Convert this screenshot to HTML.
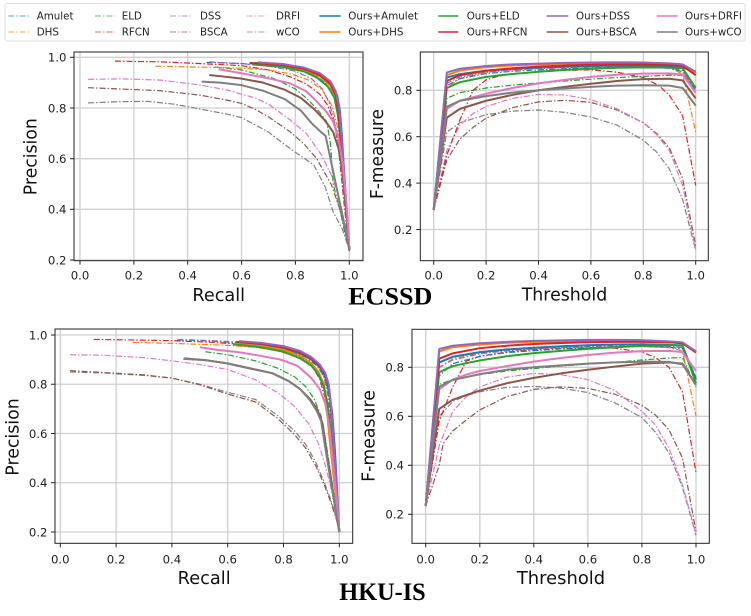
<!DOCTYPE html>
<html><head><meta charset="utf-8"><style>
html,body{margin:0;padding:0;background:#fff;}
svg{display:block;}
.g{stroke:#cfcfcf;stroke-width:1.3;}
.sp{fill:none;stroke:#222;stroke-width:1;}
.tk{stroke:#222;stroke-width:1;}
.tl{font-family:"DejaVu Sans","Liberation Sans",sans-serif;font-size:11.7px;fill:#222;}
.al{font-family:"DejaVu Sans","Liberation Sans",sans-serif;font-size:17.5px;fill:#111;}
.lg{font-family:"DejaVu Sans","Liberation Sans",sans-serif;font-size:10.3px;fill:#222;}
.tt{font-family:"Liberation Serif","Times New Roman",serif;font-weight:bold;font-size:25px;fill:#000;}
.b{fill:none;stroke-width:1.2;stroke-dasharray:6 2 1.5 2;vector-effect:non-scaling-stroke;stroke-linejoin:round;}
.o{fill:none;stroke-width:2;vector-effect:non-scaling-stroke;stroke-linejoin:round;}
.c0{stroke:#1f77b4}.c1{stroke:#ff7f0e}.c2{stroke:#2ca02c}.c3{stroke:#d62728}
.c4{stroke:#9467bd}.c5{stroke:#8c564b}.c6{stroke:#e377c2}.c7{stroke:#7f7f7f}
</style></head><body>
<svg width="751" height="616" viewBox="0 0 751 616" xmlns="http://www.w3.org/2000/svg">
<defs>
<clipPath id="k1"><rect x="74" y="52" width="289" height="208.7"/></clipPath>
<clipPath id="k2"><rect x="420.3" y="52" width="288" height="208.7"/></clipPath>
<clipPath id="k3"><rect x="55" y="329" width="297.7" height="214.3"/></clipPath>
<clipPath id="k4"><rect x="412" y="329.3" width="297.3" height="214"/></clipPath>
</defs>
<rect width="751" height="616" fill="#fff"/>

<!-- Legend -->
<rect x="5" y="3.5" width="740" height="37.5" rx="2" fill="#fff" stroke="#ddd" stroke-width="1"/>
<g opacity="0.55">
<line class="b c0" x1="8.3" y1="16" x2="29" y2="16"/>
<line class="b c1" x1="8.3" y1="32" x2="29" y2="32"/>
<line class="b c2" x1="95" y1="16" x2="115" y2="16"/>
<line class="b c3" x1="95" y1="32" x2="115" y2="32"/>
<line class="b c4" x1="170" y1="16" x2="190.7" y2="16"/>
<line class="b c5" x1="170" y1="32" x2="190.7" y2="32"/>
<line class="b c6" x1="246.7" y1="16" x2="266.7" y2="16"/>
<line class="b c7" x1="246.7" y1="32" x2="266.7" y2="32"/>
</g>
<g opacity="0.75">
<line class="o c0" x1="319.3" y1="16" x2="340.7" y2="16"/>
<line class="o c1" x1="319.3" y1="32" x2="340.7" y2="32"/>
<line class="o c2" x1="438.3" y1="16" x2="458.3" y2="16"/>
<line class="o c3" x1="438.3" y1="32" x2="458.3" y2="32"/>
<line class="o c4" x1="546.7" y1="16" x2="568.3" y2="16"/>
<line class="o c5" x1="546.7" y1="32" x2="568.3" y2="32"/>
<line class="o c6" x1="656.7" y1="16" x2="677.7" y2="16"/>
<line class="o c7" x1="656.7" y1="32" x2="677.7" y2="32"/>
</g>
<text class="lg" x="36.7" y="19.7">Amulet</text>
<text class="lg" x="36.7" y="35.7">DHS</text>
<text class="lg" x="121.7" y="19.7">ELD</text>
<text class="lg" x="121.7" y="35.7">RFCN</text>
<text class="lg" x="200" y="19.7">DSS</text>
<text class="lg" x="200" y="35.7">BSCA</text>
<text class="lg" x="276" y="19.7">DRFI</text>
<text class="lg" x="276" y="35.7">wCO</text>
<text class="lg" x="348.3" y="19.7">Ours+Amulet</text>
<text class="lg" x="348.3" y="35.7">Ours+DHS</text>
<text class="lg" x="466.7" y="19.7">Ours+ELD</text>
<text class="lg" x="466.7" y="35.7">Ours+RFCN</text>
<text class="lg" x="576" y="19.7">Ours+DSS</text>
<text class="lg" x="576" y="35.7">Ours+BSCA</text>
<text class="lg" x="685" y="19.7">Ours+DRFI</text>
<text class="lg" x="685" y="35.7">Ours+wCO</text>

<!-- ============ Plot 1: ECSSD PR ============ -->
<g class="g">
<line x1="80" y1="52" x2="80" y2="260.7"/><line x1="133.9" y1="52" x2="133.9" y2="260.7"/>
<line x1="187.7" y1="52" x2="187.7" y2="260.7"/><line x1="241.6" y1="52" x2="241.6" y2="260.7"/>
<line x1="295.4" y1="52" x2="295.4" y2="260.7"/><line x1="349.3" y1="52" x2="349.3" y2="260.7"/>
<line x1="74" y1="57.3" x2="363" y2="57.3"/><line x1="74" y1="108" x2="363" y2="108"/>
<line x1="74" y1="158.7" x2="363" y2="158.7"/><line x1="74" y1="209.3" x2="363" y2="209.3"/>
<line x1="74" y1="260" x2="363" y2="260"/>
</g>
<g clip-path="url(#k1)"><g transform="matrix(0.2693,0,0,-0.2534,80,310.7)">
<polyline class="b c7" points="30,820 150,825 250,826 350,815 450,795 550,775 600,762 700,705 780,640 868,575 910,490 940,390 975,320 1000,240"/>
<polyline class="b c5" points="30,880 150,875 300,868 450,850 550,830 600,818 650,795 700,765 780,706 830,660 879,600 934,496 965,400 985,300 1000,240"/>
<polyline class="b c6" points="30,913 150,915 300,910 450,890 550,870 600,854 650,840 700,815 780,753 840,700 897,614 940,520 965,430 985,330 1000,240"/>
<polyline class="b c2" points="500,962 600,950 718,917 800,875 842,838 885,790 916,746 930,660 940,500 960,420 977,350 1000,240"/>
<polyline class="b c3" points="130,985 300,982 450,975 600,967 700,950 780,923 840,895 890,855 920,810 945,740 960,640 975,480 990,330 1000,235"/>
<polyline class="b c1" points="280,965 400,962 500,960 600,957 700,950 780,935 850,910 900,870 935,810 955,730 970,600 985,420 1000,240"/>
<polyline class="b c0" points="470,980 600,975 700,968 800,955 870,930 910,900 940,860 955,800 965,720 975,600 988,420 1000,240"/>
<polyline class="b c4" points="480,982 600,975 700,965 800,945 860,915 900,875 925,820 940,770 955,700 970,560 985,400 1000,240"/>
<polyline class="o c0" points="650,977 750,970 830,955 890,930 930,895 955,850 965,790 972,700 980,560 990,400 1000,240"/>
<polyline class="o c1" points="640,975 750,968 830,952 890,925 930,888 950,840 962,760 970,650 982,500 992,370 1000,240"/>
<polyline class="o c2" points="640,972 750,962 830,945 880,920 920,885 945,840 958,770 966,680 978,530 990,380 1000,240"/>
<polyline class="o c3" points="630,978 750,970 830,955 890,930 930,895 950,850 960,780 968,680 980,530 990,400 1000,240"/>
<polyline class="o c4" points="660,980 750,974 830,960 890,938 930,905 950,865 962,800 970,700 980,560 990,400 1000,240"/>
<polyline class="o c5" points="480,930 550,922 600,916 680,900 760,872 820,840 870,795 910,750 940,705 960,640 975,550 990,400 1000,245"/>
<polyline class="o c6" points="515,953 600,937 700,917 780,897 840,866 880,825 915,785 940,746 960,680 975,580 990,420 1000,250"/>
<polyline class="o c7" points="452,904 520,900 600,890 680,868 760,835 820,790 860,740 895,705 912,690 930,600 950,500 970,400 990,300 1000,240"/>
</g></g>
<rect class="sp" x="74" y="52" width="289" height="208.7"/>
<g class="tk">
<line x1="80" y1="260.7" x2="80" y2="264.7"/><line x1="133.9" y1="260.7" x2="133.9" y2="264.7"/>
<line x1="187.7" y1="260.7" x2="187.7" y2="264.7"/><line x1="241.6" y1="260.7" x2="241.6" y2="264.7"/>
<line x1="295.4" y1="260.7" x2="295.4" y2="264.7"/><line x1="349.3" y1="260.7" x2="349.3" y2="264.7"/>
<line x1="70" y1="57.3" x2="74" y2="57.3"/><line x1="70" y1="108" x2="74" y2="108"/>
<line x1="70" y1="158.7" x2="74" y2="158.7"/><line x1="70" y1="209.3" x2="74" y2="209.3"/>
<line x1="70" y1="260" x2="74" y2="260"/>
</g>
<g class="tl" text-anchor="middle">
<text x="80" y="279.3">0.0</text><text x="133.9" y="279.3">0.2</text><text x="187.7" y="279.3">0.4</text>
<text x="241.6" y="279.3">0.6</text><text x="295.4" y="279.3">0.8</text><text x="349.3" y="279.3">1.0</text>
</g>
<g class="tl" text-anchor="end">
<text x="66.5" y="61.6">1.0</text><text x="66.5" y="112.3">0.8</text><text x="66.5" y="163">0.6</text>
<text x="66.5" y="213.6">0.4</text><text x="66.5" y="264.3">0.2</text>
</g>
<text class="al" x="218.7" y="301" text-anchor="middle" textLength="52.7" lengthAdjust="spacingAndGlyphs">Recall</text>
<text class="al" transform="translate(36.7,156.7) rotate(-90)" text-anchor="middle" textLength="77" lengthAdjust="spacingAndGlyphs">Precision</text>

<!-- ============ Plot 2: ECSSD F-measure ============ -->
<g class="g">
<line x1="433.7" y1="52" x2="433.7" y2="260.7"/><line x1="486.1" y1="52" x2="486.1" y2="260.7"/>
<line x1="538.5" y1="52" x2="538.5" y2="260.7"/><line x1="590.9" y1="52" x2="590.9" y2="260.7"/>
<line x1="643.3" y1="52" x2="643.3" y2="260.7"/><line x1="695.7" y1="52" x2="695.7" y2="260.7"/>
<line x1="420.3" y1="90.3" x2="708.3" y2="90.3"/><line x1="420.3" y1="136.7" x2="708.3" y2="136.7"/>
<line x1="420.3" y1="183.1" x2="708.3" y2="183.1"/><line x1="420.3" y1="229.5" x2="708.3" y2="229.5"/>
</g>
<g clip-path="url(#k2)"><g transform="matrix(0.262,0,0,-0.232,433.7,275.9)">
<polyline class="b c7" points="0,284 50,620 100,660 200,695 300,710 400,715 500,705 600,685 700,650 800,585 850,535 900,460 950,330 1000,110"/>
<polyline class="b c5" points="0,284 50,500 100,590 150,640 200,680 300,725 400,750 500,757 600,748 700,715 800,660 850,615 900,550 950,420 1000,130"/>
<polyline class="b c6" points="0,284 50,540 100,650 150,700 200,730 300,765 400,782 500,780 600,760 700,720 800,660 850,610 900,540 950,390 1000,115"/>
<polyline class="b c2" points="0,284 50,765 100,790 200,810 300,822 400,832 500,840 600,848 700,855 800,860 900,865 950,865 1000,810"/>
<polyline class="b c3" points="0,284 50,520 100,672 150,800 200,845 250,862 300,872 400,880 500,886 600,888 700,878 800,855 860,820 900,778 950,690 1000,390"/>
<polyline class="b c1" points="0,284 50,810 100,850 200,878 300,888 400,895 500,900 600,903 700,905 800,905 900,898 950,870 1000,620"/>
<polyline class="b c0" points="0,284 50,820 100,850 200,872 300,882 400,888 500,893 600,897 700,900 800,900 900,895 950,880 1000,800"/>
<polyline class="b c4" points="0,284 50,830 100,857 200,878 300,888 400,894 500,898 600,901 700,903 800,903 900,897 950,885 1000,790"/>
<polyline class="o c0" points="0,284 50,855 100,870 200,885 300,893 400,898 500,902 600,905 700,907 800,907 900,903 950,898 1000,880"/>
<polyline class="o c1" points="0,284 50,865 100,885 200,900 300,907 400,912 500,915 600,917 700,918 800,917 900,913 950,908 1000,875"/>
<polyline class="o c2" points="0,284 50,810 100,835 200,858 300,870 400,880 500,888 600,893 700,897 800,899 900,898 950,895 1000,810"/>
<polyline class="o c3" points="0,284 50,840 100,865 200,885 300,895 400,902 500,907 600,910 700,912 800,912 900,909 950,905 1000,865"/>
<polyline class="o c4" points="0,284 50,877 100,893 200,905 300,912 400,915 500,918 600,920 700,921 800,920 900,916 950,912 1000,880"/>
<polyline class="o c5" points="0,284 50,682 100,720 200,755 300,780 400,800 500,815 600,828 700,840 800,848 900,850 950,843 1000,765"/>
<polyline class="o c6" points="0,284 50,720 100,755 200,785 300,810 400,830 500,845 600,858 700,867 800,872 900,873 950,868 1000,790"/>
<polyline class="o c7" points="0,284 50,729 100,755 200,775 300,790 400,800 500,808 600,815 700,820 800,822 900,820 950,810 1000,734"/>
</g></g>
<rect class="sp" x="420.3" y="52" width="288" height="208.7"/>
<g class="tk">
<line x1="433.7" y1="260.7" x2="433.7" y2="264.7"/><line x1="486.1" y1="260.7" x2="486.1" y2="264.7"/>
<line x1="538.5" y1="260.7" x2="538.5" y2="264.7"/><line x1="590.9" y1="260.7" x2="590.9" y2="264.7"/>
<line x1="643.3" y1="260.7" x2="643.3" y2="264.7"/><line x1="695.7" y1="260.7" x2="695.7" y2="264.7"/>
<line x1="416.3" y1="90.3" x2="420.3" y2="90.3"/><line x1="416.3" y1="136.7" x2="420.3" y2="136.7"/>
<line x1="416.3" y1="183.1" x2="420.3" y2="183.1"/><line x1="416.3" y1="229.5" x2="420.3" y2="229.5"/>
</g>
<g class="tl" text-anchor="middle">
<text x="433.7" y="279.3">0.0</text><text x="486.1" y="279.3">0.2</text><text x="538.5" y="279.3">0.4</text>
<text x="590.9" y="279.3">0.6</text><text x="643.3" y="279.3">0.8</text><text x="695.7" y="279.3">1.0</text>
</g>
<g class="tl" text-anchor="end">
<text x="412.5" y="94.6">0.8</text><text x="412.5" y="141">0.6</text>
<text x="412.5" y="187.4">0.4</text><text x="412.5" y="233.8">0.2</text>
</g>
<text class="al" x="564.5" y="300.7" text-anchor="middle" textLength="85.6" lengthAdjust="spacingAndGlyphs">Threshold</text>
<text class="al" transform="translate(383,154) rotate(-90)" text-anchor="middle" textLength="90" lengthAdjust="spacingAndGlyphs">F-measure</text>

<text class="tt" x="348.3" y="304.3" textLength="84" lengthAdjust="spacingAndGlyphs">ECSSD</text>

<!-- ============ Plot 3: HKU-IS PR ============ -->
<g class="g">
<line x1="60.3" y1="329" x2="60.3" y2="543.3"/><line x1="116.1" y1="329" x2="116.1" y2="543.3"/>
<line x1="171.9" y1="329" x2="171.9" y2="543.3"/><line x1="227.7" y1="329" x2="227.7" y2="543.3"/>
<line x1="283.5" y1="329" x2="283.5" y2="543.3"/><line x1="339.3" y1="329" x2="339.3" y2="543.3"/>
<line x1="55" y1="335" x2="352.7" y2="335"/><line x1="55" y1="384.25" x2="352.7" y2="384.25"/>
<line x1="55" y1="433.5" x2="352.7" y2="433.5"/><line x1="55" y1="482.75" x2="352.7" y2="482.75"/>
<line x1="55" y1="532" x2="352.7" y2="532"/>
</g>
<g clip-path="url(#k3)"><g transform="matrix(0.279,0,0,-0.24625,60.3,581.25)">
<polyline class="b c7" points="35,850 150,846 300,836 400,825 500,800 600,767 700,738 780,672 840,610 880,555 915,485 945,405 970,330 990,255 1000,200"/>
<polyline class="b c5" points="35,855 150,848 300,838 400,825 500,798 600,760 700,728 780,660 840,595 880,540 915,470 945,395 970,320 990,250 1000,200"/>
<polyline class="b c6" points="35,920 150,918 300,908 400,895 500,880 600,860 700,818 780,765 840,710 890,640 925,560 950,470 970,380 990,280 1000,200"/>
<polyline class="b c2" points="520,932 600,920 700,895 780,865 840,830 880,790 910,740 935,670 950,580 965,470 985,320 1000,200"/>
<polyline class="b c3" points="120,982 250,980 400,977 550,970 650,962 750,948 820,930 870,905 905,870 930,820 950,740 965,620 980,450 1000,200"/>
<polyline class="b c1" points="260,970 400,966 500,962 600,958 700,950 780,935 850,910 900,875 930,830 950,760 965,650 980,480 1000,200"/>
<polyline class="b c0" points="420,980 550,975 650,968 750,955 830,935 880,910 920,875 945,830 960,770 970,690 985,500 1000,200"/>
<polyline class="b c4" points="420,982 550,977 650,970 750,958 830,940 880,915 920,880 945,830 960,750 975,600 990,400 1000,200"/>
<polyline class="o c0" points="640,968 720,960 800,945 860,925 900,900 930,870 950,830 965,760 975,680 985,520 993,350 1000,200"/>
<polyline class="o c1" points="630,965 720,955 800,940 860,915 900,885 925,850 945,800 955,700 965,580 980,420 992,300 1000,200"/>
<polyline class="o c2" points="620,962 720,950 800,932 860,905 900,875 925,840 945,790 958,720 968,620 980,480 992,320 1000,200"/>
<polyline class="o c3" points="630,972 720,965 800,950 860,930 900,905 930,875 950,840 963,790 970,700 980,550 990,380 1000,200"/>
<polyline class="o c4" points="640,975 720,968 800,955 860,935 900,910 930,880 950,845 962,800 970,720 980,560 990,380 1000,200"/>
<polyline class="o c5" points="445,905 520,898 600,884 680,864 760,845 820,812 860,780 895,740 920,700 940,640 955,520 970,420 985,300 1000,200"/>
<polyline class="o c6" points="500,950 560,940 640,930 720,915 790,900 850,875 900,825 930,780 950,720 965,620 980,450 992,320 1000,200"/>
<polyline class="o c7" points="441,903 520,898 600,885 680,865 760,845 820,812 860,780 895,735 920,690 935,650 950,540 970,400 985,300 1000,200"/>
</g></g>
<rect class="sp" x="55" y="329" width="297.7" height="214.3"/>
<g class="tk">
<line x1="60.3" y1="543.3" x2="60.3" y2="547.3"/><line x1="116.1" y1="543.3" x2="116.1" y2="547.3"/>
<line x1="171.9" y1="543.3" x2="171.9" y2="547.3"/><line x1="227.7" y1="543.3" x2="227.7" y2="547.3"/>
<line x1="283.5" y1="543.3" x2="283.5" y2="547.3"/><line x1="339.3" y1="543.3" x2="339.3" y2="547.3"/>
<line x1="51" y1="335" x2="55" y2="335"/><line x1="51" y1="384.25" x2="55" y2="384.25"/>
<line x1="51" y1="433.5" x2="55" y2="433.5"/><line x1="51" y1="482.75" x2="55" y2="482.75"/>
<line x1="51" y1="532" x2="55" y2="532"/>
</g>
<g class="tl" text-anchor="middle">
<text x="60.3" y="563.3">0.0</text><text x="116.1" y="563.3">0.2</text><text x="171.9" y="563.3">0.4</text>
<text x="227.7" y="563.3">0.6</text><text x="283.5" y="563.3">0.8</text><text x="339.3" y="563.3">1.0</text>
</g>
<g class="tl" text-anchor="end">
<text x="47.5" y="339.3">1.0</text><text x="47.5" y="388.5">0.8</text><text x="47.5" y="437.8">0.6</text>
<text x="47.5" y="487">0.4</text><text x="47.5" y="536.3">0.2</text>
</g>
<text class="al" x="204.2" y="584" text-anchor="middle" textLength="53" lengthAdjust="spacingAndGlyphs">Recall</text>
<text class="al" transform="translate(18.5,437) rotate(-90)" text-anchor="middle" textLength="77.4" lengthAdjust="spacingAndGlyphs">Precision</text>

<!-- ============ Plot 4: HKU-IS F-measure ============ -->
<g class="g">
<line x1="425.7" y1="329.3" x2="425.7" y2="543.3"/><line x1="479.8" y1="329.3" x2="479.8" y2="543.3"/>
<line x1="533.8" y1="329.3" x2="533.8" y2="543.3"/><line x1="587.9" y1="329.3" x2="587.9" y2="543.3"/>
<line x1="641.9" y1="329.3" x2="641.9" y2="543.3"/><line x1="696" y1="329.3" x2="696" y2="543.3"/>
<line x1="412" y1="367.3" x2="709.3" y2="367.3"/><line x1="412" y1="416.3" x2="709.3" y2="416.3"/>
<line x1="412" y1="465.3" x2="709.3" y2="465.3"/><line x1="412" y1="514.3" x2="709.3" y2="514.3"/>
</g>
<g clip-path="url(#k4)"><g transform="matrix(0.2703,0,0,-0.245,425.7,563.3)">
<polyline class="b c7" points="0,234 50,600 100,660 150,685 200,700 300,718 400,722 500,715 600,697 700,655 800,595 850,535 900,450 950,310 1000,115"/>
<polyline class="b c5" points="0,234 50,400 65,490 100,540 150,585 200,626 300,680 400,710 500,720 600,714 700,690 800,645 850,605 900,545 950,430 1000,130"/>
<polyline class="b c6" points="0,234 50,480 100,620 150,680 200,720 300,760 400,775 500,770 600,750 700,705 800,620 850,565 900,470 950,320 1000,120"/>
<polyline class="b c2" points="0,234 50,730 100,750 200,770 300,785 400,795 500,805 600,813 700,820 800,830 900,838 950,840 1000,720"/>
<polyline class="b c3" points="0,234 50,580 100,720 150,825 200,845 300,862 400,872 500,878 600,880 700,878 800,862 850,840 900,800 950,700 1000,371"/>
<polyline class="b c1" points="0,234 50,800 100,835 200,858 300,868 400,875 500,880 600,883 700,885 800,885 900,880 950,868 1000,600"/>
<polyline class="b c0" points="0,234 50,765 100,815 200,845 300,860 400,868 500,875 600,880 700,883 800,885 900,882 950,876 1000,752"/>
<polyline class="b c4" points="0,234 50,800 100,830 200,855 300,867 400,875 500,880 600,884 700,887 800,888 900,885 950,880 1000,760"/>
<polyline class="o c0" points="0,234 50,820 100,843 200,862 300,873 400,880 500,886 600,890 700,893 800,894 900,892 950,888 1000,750"/>
<polyline class="o c1" points="0,234 50,865 100,882 200,893 300,900 400,904 500,906 600,908 700,908 800,907 900,903 950,898 1000,862"/>
<polyline class="o c2" points="0,234 50,780 100,805 200,828 300,845 400,858 500,867 600,875 700,882 800,887 900,890 950,890 1000,735"/>
<polyline class="o c3" points="0,234 50,835 100,857 200,878 300,888 400,895 500,899 600,902 700,904 800,904 900,902 950,898 1000,860"/>
<polyline class="o c4" points="0,234 50,875 100,888 200,898 300,904 400,908 500,910 600,912 700,912 800,911 900,906 950,902 1000,865"/>
<polyline class="o c5" points="0,234 50,630 100,668 200,705 300,735 400,757 500,775 600,790 700,803 800,815 900,820 950,815 1000,728"/>
<polyline class="o c6" points="0,234 50,710 100,750 150,770 200,785 300,805 400,823 500,838 600,850 700,860 800,866 900,867 950,862 1000,785"/>
<polyline class="o c7" points="0,234 50,720 100,748 200,772 300,790 400,800 500,808 600,815 700,820 800,823 900,822 950,812 1000,728"/>
</g></g>
<rect class="sp" x="412" y="329.3" width="297.3" height="214"/>
<g class="tk">
<line x1="425.7" y1="543.3" x2="425.7" y2="547.3"/><line x1="479.8" y1="543.3" x2="479.8" y2="547.3"/>
<line x1="533.8" y1="543.3" x2="533.8" y2="547.3"/><line x1="587.9" y1="543.3" x2="587.9" y2="547.3"/>
<line x1="641.9" y1="543.3" x2="641.9" y2="547.3"/><line x1="696" y1="543.3" x2="696" y2="547.3"/>
<line x1="408" y1="367.3" x2="412" y2="367.3"/><line x1="408" y1="416.3" x2="412" y2="416.3"/>
<line x1="408" y1="465.3" x2="412" y2="465.3"/><line x1="408" y1="514.3" x2="412" y2="514.3"/>
</g>
<g class="tl" text-anchor="middle">
<text x="425.7" y="563.3">0.0</text><text x="479.8" y="563.3">0.2</text><text x="533.8" y="563.3">0.4</text>
<text x="587.9" y="563.3">0.6</text><text x="641.9" y="563.3">0.8</text><text x="696" y="563.3">1.0</text>
</g>
<g class="tl" text-anchor="end">
<text x="404" y="371.6">0.8</text><text x="404" y="420.6">0.6</text>
<text x="404" y="469.6">0.4</text><text x="404" y="518.6">0.2</text>
</g>
<text class="al" x="561" y="584" text-anchor="middle" textLength="88.3" lengthAdjust="spacingAndGlyphs">Threshold</text>
<text class="al" transform="translate(374.5,436) rotate(-90)" text-anchor="middle" textLength="91.7" lengthAdjust="spacingAndGlyphs">F-measure</text>

<text class="tt" x="339.3" y="600" textLength="86.4" lengthAdjust="spacingAndGlyphs">HKU-IS</text>
</svg>
</body></html>
